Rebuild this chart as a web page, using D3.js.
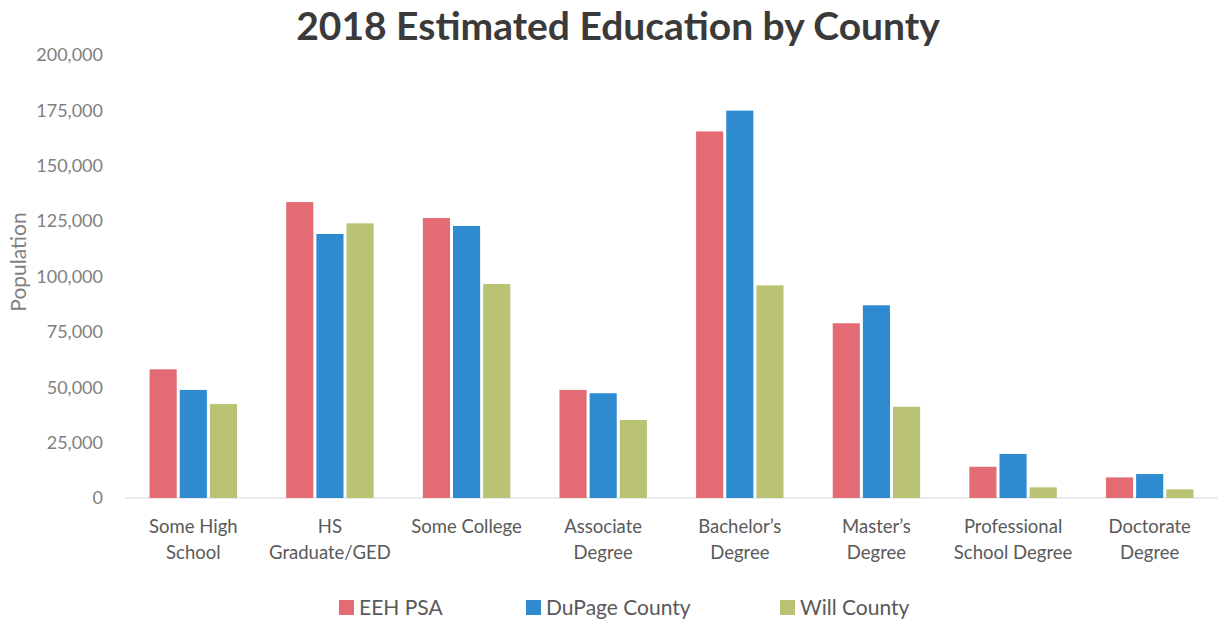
<!DOCTYPE html>
<html>
<head>
<meta charset="utf-8">
<script src="https://cdn.jsdelivr.net/npm/d3@7"></script>
<style>
    body { margin: 0; background: #ffffff; }
    text { font-family: Lato, "Open Sans", sans-serif; }
</style>
</head>
<body>
<div id="chart"></div>
<script>
// Chart data
var categories = ["Some High School", "HS Graduate/GED", "Some College", "Associate Degree",
    "Bachelor's Degree", "Master's Degree", "Professional School Degree", "Doctorate Degree"];

// Label lines under each category
var categoryLines = [
    ["Some High", "School"],
    ["HS", "Graduate/GED"],
    ["Some College"],
    ["Associate", "Degree"],
    ["Bachelor\u2019s", "Degree"],
    ["Master\u2019s", "Degree"],
    ["Professional", "School Degree"],
    ["Doctorate", "Degree"]
];

var seriesNames = ["EEH PSA", "DuPage County", "Will County"];
var seriesColors = ["#e36b74", "#2e8bd0", "#b9c373"];

var eehValues = [58100, 133600, 126400, 48800, 165500, 78900, 14100, 9300];
var dupageValues = [48800, 119200, 122800, 47300, 174900, 87000, 19900, 10800];
var willValues = [42400, 124000, 96600, 35200, 96000, 41200, 4800, 3900];

var yTicks = [0, 25000, 50000, 75000, 100000, 125000, 150000, 175000, 200000];

var svgWidth = 1220;
var svgHeight = 624;

var margin = { top: 55, right: 2, bottom: 126, left: 125 };
var chartWidth = svgWidth - margin.left - margin.right;
var chartHeight = svgHeight - margin.top - margin.bottom;

// build rows for the grouped bars
var tableData = categories.map(function (c, i) {
    return { category: c, values: [eehValues[i], dupageValues[i], willValues[i]] };
});

var svg = d3.select("#chart").append("svg")
    .attr("width", svgWidth)
    .attr("height", svgHeight);

var chartGroup = svg.append("g")
    .attr("transform", `translate(${margin.left}, ${margin.top})`);

// scales
var x0 = d3.scaleBand()
    .domain(categories)
    .range([0, chartWidth])
    .paddingInner(0.36)
    .paddingOuter(0.18);

var x1 = d3.scaleBand()
    .domain(d3.range(seriesNames.length))
    .range([0, x0.bandwidth()])
    .paddingInner(0.1);

var y = d3.scaleLinear()
    .domain([0, 200000])
    .range([chartHeight, 0]);

// left axis, no line, just labels
var leftAxis = d3.axisLeft(y)
    .tickValues(yTicks)
    .tickSize(0)
    .tickPadding(22)
    .tickFormat(d3.format(","));

var yAxisG = chartGroup.append("g").call(leftAxis);
yAxisG.select(".domain").remove();
yAxisG.selectAll("text")
    .attr("fill", "#7f7f7f")
    .style("font-size", "18px");

// baseline
chartGroup.append("line")
    .attr("x1", 0)
    .attr("x2", chartWidth)
    .attr("y1", y(0))
    .attr("y2", y(0))
    .attr("stroke", "#d9d9d9")
    .attr("stroke-width", 1);

// bars
var groups = chartGroup.selectAll(".group")
    .data(tableData)
    .enter()
    .append("g")
    .attr("class", "group")
    .attr("transform", d => `translate(${x0(d.category)}, 0)`);

groups.selectAll("rect")
    .data(d => d.values)
    .enter()
    .append("rect")
    .attr("x", (d, i) => x1(i))
    .attr("y", d => y(d))
    .attr("width", x1.bandwidth())
    .attr("height", d => y(0) - y(d))
    .attr("fill", (d, i) => seriesColors[i]);

// category labels
var labelGroup = chartGroup.selectAll(".xlabel")
    .data(categories)
    .enter()
    .append("text")
    .attr("class", "xlabel")
    .attr("text-anchor", "middle")
    .attr("fill", "#595959")
    .style("font-size", "18.5px")
    .attr("transform", d => `translate(${x0(d) + x0.bandwidth() / 2}, ${chartHeight + 35})`);

labelGroup.each(function (d, i) {
    var t = d3.select(this);
    categoryLines[i].forEach(function (line, j) {
        t.append("tspan")
            .attr("x", 0)
            .attr("y", j * 26)
            .text(line);
    });
});

// Y axis title
svg.append("text")
    .attr("transform", "rotate(-90)")
    .attr("x", -262)
    .attr("y", 26)
    .attr("text-anchor", "middle")
    .attr("fill", "#7f7f7f")
    .style("font-size", "21px")
    .text("Population");

// Title
svg.append("text")
    .attr("x", 618)
    .attr("y", 40)
    .attr("text-anchor", "middle")
    .attr("fill", "#3a3a3a")
    .style("font-size", "39px")
    .style("font-weight", "bold")
    .text("2018 Estimated Education by County");

// legend
var legendX = [339, 526, 780];
var legend = svg.selectAll(".legend")
    .data(seriesNames)
    .enter()
    .append("g")
    .attr("class", "legend")
    .attr("transform", (d, i) => `translate(${legendX[i]}, 600)`);

legend.append("rect")
    .attr("width", 15)
    .attr("height", 15)
    .attr("fill", (d, i) => seriesColors[i]);

legend.append("text")
    .attr("x", 20)
    .attr("y", 15)
    .attr("fill", "#595959")
    .style("font-size", "21px")
    .text(d => d);
</script>
</body>
</html>
